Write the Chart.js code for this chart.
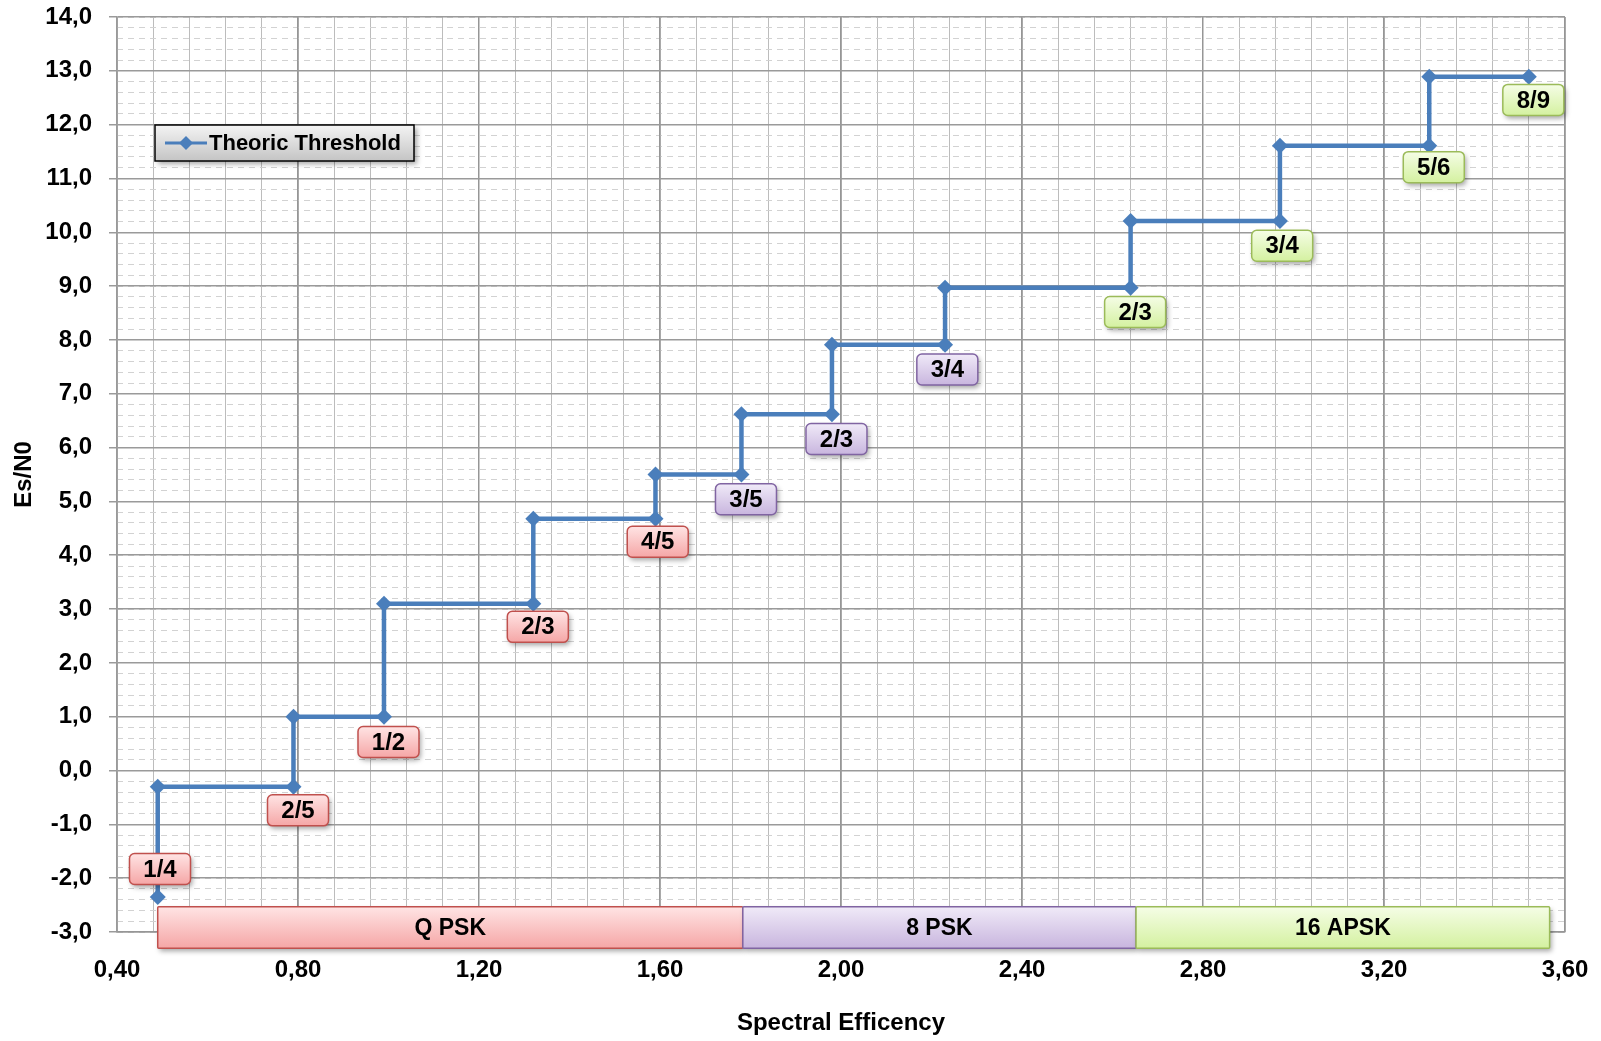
<!DOCTYPE html>
<html>
<head>
<meta charset="utf-8">
<script src="https://cdn.jsdelivr.net/npm/chart.js@4.4.1/dist/chart.umd.min.js"></script>
<style>
  html, body { margin: 0; padding: 0; background: #fff; }
  #wrap { width: 1601px; height: 1041px; }
</style>
</head>
<body>
<div id="wrap"><canvas id="chart" width="1601" height="1041"></canvas></div>
<script>
// step line corners (spectral efficiency, Es/N0)
const stepX = [0.49, 0.49, 0.79, 0.79, 0.99, 0.99, 1.32, 1.32, 1.59, 1.59, 1.78, 1.78,
               1.98, 1.98, 2.23, 2.23, 2.64, 2.64, 2.97, 2.97, 3.30, 3.30, 3.52];
const stepY = [-2.35, -0.30, -0.30, 1.00, 1.00, 3.10, 3.10, 4.68, 4.68, 5.50, 5.50, 6.62,
               6.62, 7.91, 7.91, 8.97, 8.97, 10.21, 10.21, 11.61, 11.61, 12.89, 12.89];

// code rate boxes
const rateText  = ['1/4', '2/5', '1/2', '2/3', '4/5', '3/5', '2/3', '3/4', '2/3', '3/4', '5/6', '8/9'];
const rateGroup = ['QPSK', 'QPSK', 'QPSK', 'QPSK', 'QPSK', '8PSK', '8PSK', '8PSK', '16APSK', '16APSK', '16APSK', '16APSK'];
const rateX = [0.495, 0.80, 1.00, 1.33, 1.595, 1.79, 1.99, 2.235, 2.65, 2.975, 3.31, 3.53];
const rateY = [-1.83, -0.74, 0.53, 2.67, 4.25, 5.04, 6.16, 7.45, 8.52, 9.75, 11.21, 12.46];

// modulation bands along the bottom
const bandName  = ['Q PSK', '8 PSK', '16 APSK'];
const bandGroup = ['QPSK', '8PSK', '16APSK'];
const bandFrom  = [0.49, 1.783, 2.652];
const bandTo    = [1.783, 2.652, 3.566];
const bandTop = -2.53;
const bandBottom = -3.30;

const FONT = "'Liberation Sans', Arial, sans-serif";
const BLUE = '#4a7ebb';

const palette = {
  QPSK:   { top: '#ffe4e4', bottom: '#f5a6a6', border: '#c0504d' },
  '8PSK': { top: '#f0eaf8', bottom: '#c8b5de', border: '#8064a2' },
  '16APSK': { top: '#f5fde6', bottom: '#d4f1a0', border: '#9bbb59' }
};

function roundRect(ctx, x, y, w, h, r) {
  ctx.beginPath();
  ctx.moveTo(x + r, y);
  ctx.arcTo(x + w, y, x + w, y + h, r);
  ctx.arcTo(x + w, y + h, x, y + h, r);
  ctx.arcTo(x, y + h, x, y, r);
  ctx.arcTo(x, y, x + w, y, r);
  ctx.closePath();
}

function drawBox(ctx, x, y, w, h, r, col) {
  ctx.save();
  const g = ctx.createLinearGradient(0, y, 0, y + h);
  g.addColorStop(0, col.top);
  g.addColorStop(1, col.bottom);
  roundRect(ctx, x, y, w, h, r);
  ctx.shadowColor = 'rgba(0,0,0,0.35)';
  ctx.shadowBlur = 5;
  ctx.shadowOffsetX = 2;
  ctx.shadowOffsetY = 3;
  ctx.fillStyle = g;
  ctx.fill();
  ctx.shadowColor = 'transparent';
  ctx.lineWidth = 1.5;
  ctx.strokeStyle = col.border;
  ctx.stroke();
  ctx.restore();
}

const extrasPlugin = {
  id: 'extras',
  afterDatasetsDraw(chart) {
    const { ctx, scales: { x, y } } = chart;
    // bands
    bandName.forEach((name, i) => {
      const x0 = x.getPixelForValue(bandFrom[i]);
      const x1 = x.getPixelForValue(bandTo[i]);
      const y0 = y.getPixelForValue(bandTop);
      const y1 = y.getPixelForValue(bandBottom);
      drawBox(ctx, x0, y0, x1 - x0, y1 - y0, 1, palette[bandGroup[i]]);
      ctx.save();
      ctx.fillStyle = '#000';
      ctx.font = 'bold 23px ' + FONT;
      ctx.textAlign = 'center';
      ctx.textBaseline = 'middle';
      ctx.fillText(name, (x0 + x1) / 2, (y0 + y1) / 2 + 1);
      ctx.restore();
    });
    // code rate labels
    rateText.forEach((t, i) => {
      const cx = x.getPixelForValue(rateX[i]);
      const cy = y.getPixelForValue(rateY[i]);
      const w = 61, h = 31;
      drawBox(ctx, cx - w / 2, cy - h / 2, w, h, 5, palette[rateGroup[i]]);
      ctx.save();
      ctx.fillStyle = '#000';
      ctx.font = 'bold 24px ' + FONT;
      ctx.textAlign = 'center';
      ctx.textBaseline = 'middle';
      ctx.fillText(t, cx, cy + 1);
      ctx.restore();
    });
  },
  afterDraw(chart) {
    const { ctx, chartArea } = chart;
    const bx = chartArea.left + 38, by = chartArea.top + 108, bw = 259, bh = 36;
    ctx.save();
    const g = ctx.createLinearGradient(0, by, 0, by + bh);
    g.addColorStop(0, '#f4f4f4');
    g.addColorStop(1, '#c4c4c4');
    ctx.shadowColor = 'rgba(0,0,0,0.35)';
    ctx.shadowBlur = 5;
    ctx.shadowOffsetX = 3;
    ctx.shadowOffsetY = 3;
    ctx.fillStyle = g;
    ctx.fillRect(bx, by, bw, bh);
    ctx.shadowColor = 'transparent';
    ctx.lineWidth = 1.5;
    ctx.strokeStyle = '#000';
    ctx.strokeRect(bx, by, bw, bh);
    const my = by + bh / 2;
    ctx.strokeStyle = BLUE;
    ctx.lineWidth = 3;
    ctx.beginPath();
    ctx.moveTo(bx + 10, my);
    ctx.lineTo(bx + 52, my);
    ctx.stroke();
    ctx.fillStyle = BLUE;
    ctx.beginPath();
    ctx.moveTo(bx + 31, my - 7);
    ctx.lineTo(bx + 38, my);
    ctx.lineTo(bx + 31, my + 7);
    ctx.lineTo(bx + 24, my);
    ctx.closePath();
    ctx.fill();
    ctx.fillStyle = '#000';
    ctx.font = 'bold 22px ' + FONT;
    ctx.textBaseline = 'middle';
    ctx.fillText(chart.data.datasets[0].label, bx + 54, my + 1);
    ctx.restore();
  }
};

const tickFont = { family: FONT, size: 24, weight: 'bold' };
const titleFont = { family: FONT, size: 24, weight: 'bold' };

new Chart(document.getElementById('chart'), {
  type: 'line',
  data: {
    datasets: [{
      label: 'Theoric Threshold',
      data: stepX.map((v, i) => ({ x: v, y: stepY[i] })),
      borderColor: BLUE,
      backgroundColor: BLUE,
      borderWidth: 4.5,
      pointStyle: 'rectRot',
      pointRadius: 8,
      pointBorderWidth: 0,
      fill: false,
      tension: 0
    }]
  },
  options: {
    responsive: false,
    animation: false,
    layout: { padding: { top: 17, right: 36, left: 0, bottom: 0 } },
    plugins: { legend: { display: false }, tooltip: { enabled: false } },
    scales: {
      xMinor: {
        type: 'linear', position: 'bottom', min: 0.4, max: 3.6,
        ticks: { display: false, stepSize: 0.08 },
        grid: { color: '#bcbcbc', lineWidth: 1, drawTicks: false, z: -2 },
        border: { display: false },
        afterFit: s => { s.height = 0; s.paddingLeft = 0; s.paddingRight = 0; }
      },
      yMinor: {
        type: 'linear', position: 'left', min: -3, max: 14,
        ticks: { display: false, stepSize: 0.2 },
        grid: { color: '#d2d2d2', lineWidth: 1, drawTicks: false, z: -2 },
        border: { display: false, dash: [6, 5] },
        afterFit: s => { s.width = 0; s.paddingTop = 0; s.paddingBottom = 0; }
      },
      x: {
        type: 'linear', position: 'bottom', min: 0.4, max: 3.6,
        ticks: {
          stepSize: 0.4, font: tickFont, color: '#000', padding: 24,
          callback: v => v.toFixed(2).replace('.', ',')
        },
        grid: { color: '#969696', lineWidth: 1.5, drawTicks: false },
        border: { color: '#969696', width: 1.5 },
        title: { display: true, text: 'Spectral Efficency', font: titleFont, color: '#000', padding: { top: 0, bottom: 3 } },
        afterFit: s => { s.height = 109; s.paddingLeft = 0; s.paddingRight = 0; }
      },
      y: {
        type: 'linear', position: 'left', min: -3, max: 14,
        ticks: {
          stepSize: 1, font: tickFont, color: '#000', padding: 17,
          callback: v => v.toFixed(1).replace('.', ',')
        },
        grid: { color: '#9a9a9a', lineWidth: 1.5, tickLength: 8 },
        border: { color: '#9a9a9a', width: 1.5 },
        title: { display: true, text: 'Es/N0', font: titleFont, color: '#000', padding: { top: 10, bottom: 0 } },
        afterFit: s => { s.width = 117; s.paddingTop = 0; s.paddingBottom = 0; }
      }
    }
  },
  plugins: [extrasPlugin]
});
</script>
</body>
</html>
